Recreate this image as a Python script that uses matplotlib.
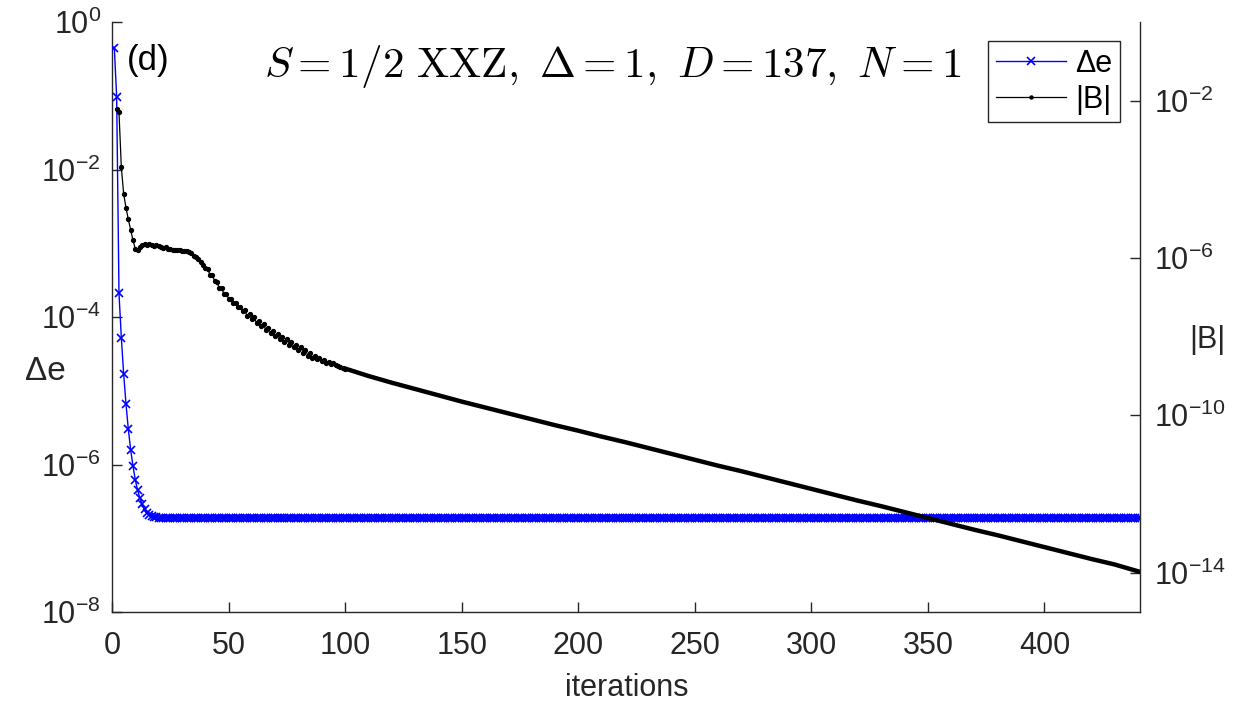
import numpy as np
import matplotlib
matplotlib.use("Agg")
import matplotlib.pyplot as plt
from matplotlib.lines import Line2D

# ---------------- data ----------------
# Delta e (left axis), iterations 1..20 (log10 values), then a constant plateau
de_iter_head = list(range(1, 21))
de_log10_head = [-0.35, -1.02, -3.68, -4.28, -4.77, -5.18, -5.52, -5.80, -6.02, -6.21,
                 -6.35, -6.46, -6.54, -6.61, -6.66, -6.685, -6.70, -6.71, -6.716, -6.72]
de_plateau_log10 = -6.722
n_iter = 441

# |B| (right axis), every iteration 2..100 (log10 values)
b_iter_head = list(range(2, 101))
b_log10_head = [
    -2.20, -2.30, -3.69, -4.37, -4.72, -5.02, -5.28, -5.55, -5.77,          # 2-10
    -5.80, -5.73, -5.66, -5.65, -5.66, -5.65, -5.68, -5.69, -5.68, -5.70,   # 11-20
    -5.71, -5.74, -5.73, -5.77, -5.78, -5.79, -5.79, -5.80, -5.80, -5.82,   # 21-30
    -5.82, -5.83, -5.84, -5.88, -5.94, -5.98, -6.03, -6.09, -6.17, -6.26,   # 31-40
    -6.28, -6.42, -6.43, -6.58, -6.61, -6.76, -6.77, -6.91, -6.91, -7.03,   # 41-50
    -7.03, -7.15, -7.14, -7.25, -7.24, -7.35, -7.33, -7.48, -7.42, -7.56,   # 51-60
    -7.51, -7.65, -7.60, -7.74, -7.69, -7.83, -7.77, -7.91, -7.85, -7.99,   # 61-70
    -7.93, -8.07, -8.00, -8.14, -8.07, -8.20, -8.14, -8.27, -8.20, -8.33,   # 71-80
    -8.27, -8.41, -8.34, -8.48, -8.41, -8.54, -8.50, -8.56, -8.55, -8.61,   # 81-90
    -8.60, -8.66, -8.64, -8.70, -8.68, -8.72, -8.74, -8.76, -8.79, -8.81,   # 91-100
]
# |B| tail (straight part), read every 10 iterations
b_iter_tail = [100, 110, 120, 130, 140, 150, 160, 170, 180, 190, 200, 210, 220, 230,
               240, 250, 260, 270, 280, 290, 300, 310, 320, 330, 340, 350, 360, 370,
               380, 390, 400, 410, 420, 430, 441]
b_log10_tail = [-8.81, -9.00, -9.17, -9.33, -9.49, -9.65, -9.80, -9.95, -10.10, -10.25,
                -10.39, -10.54, -10.68, -10.83, -10.98, -11.13, -11.28, -11.42, -11.57,
                -11.72, -11.87, -12.02, -12.17, -12.31, -12.46, -12.61, -12.76, -12.91,
                -13.05, -13.20, -13.35, -13.50, -13.65, -13.79, -13.98]

x_ticks = [0, 50, 100, 150, 200, 250, 300, 350, 400]
left_ticks = [1e0, 1e-2, 1e-4, 1e-6, 1e-8]
left_labels = ["0", "-2", "-4", "-6", "-8"]
right_ticks = [1e-14, 1e-10, 1e-6, 1e-2]
right_labels = ["-14", "-10", "-6", "-2"]
title_text = r"$S=1/2\ \mathrm{XXZ},\ \Delta=1,\ D=137,\ N=1$"

# ---------------- build series ----------------
de_x = np.array(de_iter_head + list(range(21, n_iter + 1)))
de_y = 10.0 ** np.array(de_log10_head + [de_plateau_log10] * (n_iter - 20))
b_xh = np.array(b_iter_head)
b_yh = 10.0 ** np.array(b_log10_head)
b_xt = np.array(b_iter_tail)
b_yt = 10.0 ** np.array(b_log10_tail)

plt.rcParams["font.family"] = ["Liberation Sans", "DejaVu Sans"]
AX_COL = (0.15, 0.15, 0.15)
TICK_FS = 22


def exp_label(s):
    return r"$\mathdefault{10^{%s}}$" % s


fig = plt.figure(figsize=(12.5, 7.05), dpi=100)
ax = fig.add_axes([112 / 1250, 93 / 705, 1028 / 1250, 590 / 705])
ax2 = ax.twinx()

ax.plot(de_x, de_y, color=(0, 0, 1), lw=1.0, marker="x", ms=5.5, mew=1.2, zorder=3)
ax2.plot(b_xh, b_yh, color="k", lw=0.9, marker="o", ms=2.8, zorder=3)
ax2.plot(b_xt, b_yt, color="k", lw=3.2, solid_capstyle="round", zorder=3)

ax.set_yscale("log")
ax2.set_yscale("log")
ax.set_xlim(0, 441)
ax.set_ylim(1e-8, 1e0)
ax2.set_ylim(1e-15, 1e0)

ax.set_xticks(x_ticks)
ax.set_xticklabels([str(t) for t in x_ticks])
ax.set_yticks(left_ticks)
ax.set_yticklabels([exp_label(s) for s in left_labels])
ax2.set_yticks(right_ticks)
ax2.set_yticklabels([exp_label(s) for s in right_labels])
ax.yaxis.set_minor_locator(matplotlib.ticker.NullLocator())
ax2.yaxis.set_minor_locator(matplotlib.ticker.NullLocator())

for a in (ax, ax2):
    a.spines["top"].set_visible(False)
    for s in a.spines.values():
        s.set_color(AX_COL)
        s.set_linewidth(1.0)
ax.spines["right"].set_visible(False)
ax2.spines["left"].set_visible(False)
ax2.spines["bottom"].set_visible(False)

ax.tick_params(axis="both", direction="in", length=7, width=1.0, colors=AX_COL,
               labelsize=TICK_FS, labelcolor=AX_COL)
ax.tick_params(axis="x", pad=14)
ax.tick_params(axis="y", pad=8)
ax2.tick_params(axis="y", direction="in", length=7, width=1.0, colors=AX_COL,
                labelsize=TICK_FS, labelcolor=AX_COL, pad=10)

ax.set_xlabel("iterations", fontsize=TICK_FS, color=AX_COL, va="center")
ax.xaxis.set_label_coords(0.501, -0.129)
ax.set_ylabel("Δe", fontsize=24, color=AX_COL, rotation=0, ha="center", va="center")
ax.yaxis.set_label_coords(-0.065, 0.407)
ax2.set_ylabel("|B|", fontsize=TICK_FS, color=AX_COL, rotation=0, ha="center", va="center")
ax2.yaxis.set_label_coords(1.066, 0.461)

ax.text(0.487, 0.924, title_text, transform=ax.transAxes, ha="center", va="center",
        fontsize=31, math_fontfamily="cm", color="k")
ax.text(0.014, 0.934, "(d)", transform=ax.transAxes, ha="left", va="center",
        fontsize=25, color="k")

handles = [
    Line2D([], [], color=(0, 0, 1), lw=1.0, marker="x", ms=5.5, mew=1.2),
    Line2D([], [], color="k", lw=0.9, marker="o", ms=2.2),
]
leg = ax2.legend(handles, ["Δe", "|B|"], loc="upper right",
                 bbox_to_anchor=(0.9805, 0.968), borderaxespad=0, fontsize=22,
                 frameon=True, fancybox=False, framealpha=1, edgecolor=AX_COL,
                 handlelength=2.3, handletextpad=0.3, borderpad=0.25, labelspacing=0.2)
leg.get_frame().set_linewidth(1.0)

fig.savefig("out.png", dpi=100)
